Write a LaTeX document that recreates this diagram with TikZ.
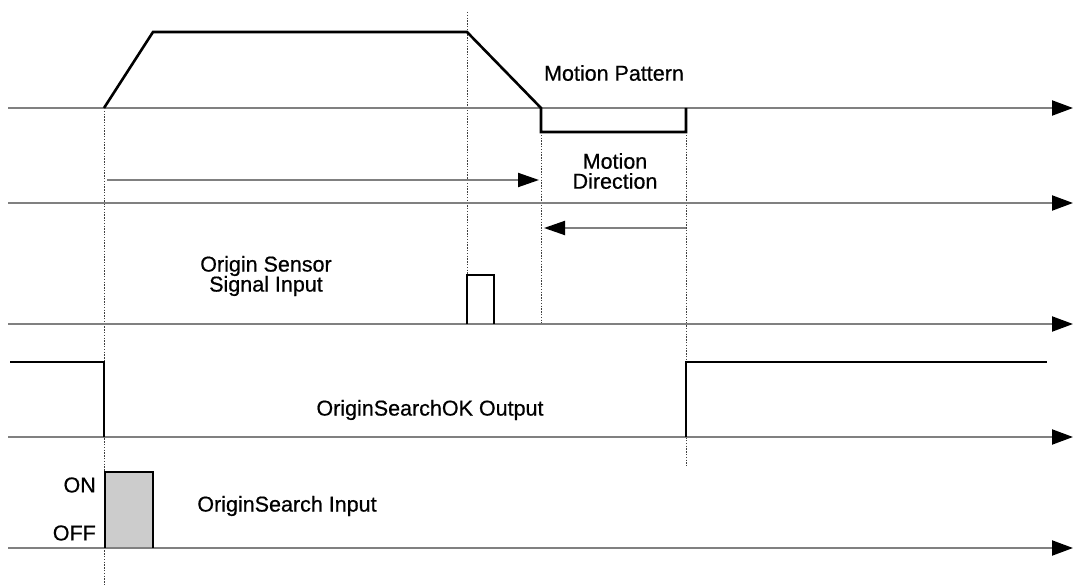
\documentclass[tikz,border=0pt]{standalone}
\usepackage{fontspec}
\setmainfont{Liberation Sans}
\newfontfamily\lblfont{Liberation Sans}[FakeBold=0.6]
\usetikzlibrary{arrows.meta}
\begin{document}
\begin{tikzpicture}[x=1pt,y=-1pt,
  axisline/.style={draw=black!50,line width=2pt,-{Triangle[length=21pt,width=15pt,color=black,fill=black]}},
  sigline/.style={draw=black,line width=2.6pt,line join=miter},
  guide/.style={draw=black!75,line width=1pt,dash pattern=on 1.4pt off 1.4pt},
  dirarrow/.style={draw=black!50,line width=2pt,-{Triangle[length=21pt,width=14pt,color=black,fill=black]}},
  lbl/.style={font=\lblfont\fontsize{21.5}{24}\selectfont,align=center,inner sep=0pt}]
\useasboundingbox (0,0) rectangle (1073,585);
% axis coordinates
\foreach \n/\y in {a/108,b/203,c/324,d/437,e/548}{
  \coordinate (\n s) at (8,\y);
  \coordinate (\n e) at (1073,\y);
}
% guides
\coordinate (g1t) at (104,108); \coordinate (g1b) at (104,585);
\coordinate (g2t) at (467,12);  \coordinate (g2b) at (467,275);
\coordinate (g3t) at (541,132); \coordinate (g3b) at (541,324);
\coordinate (g4t) at (686,132); \coordinate (g4b) at (686,466);
\draw[guide] (g1t) -- (g1b);
\draw[guide] (g2t) -- (g2b);
\draw[guide] (g3t) -- (g3b);
\draw[guide] (g4t) -- (g4b);
% gray input pulse
\coordinate (p1) at (104,548); \coordinate (p2) at (153,472);
\fill[black!20] (p1) rectangle (p2);
% axes
\draw[axisline] (as) -- (ae);
\draw[axisline] (bs) -- (be);
\draw[axisline] (cs) -- (ce);
\draw[axisline] (ds) -- (de);
\draw[axisline] (es) -- (ee);
% motion pattern
\coordinate (m0) at (104,108); \coordinate (m1) at (153,32);
\coordinate (m2) at (467,32);  \coordinate (m3) at (541,108);
\coordinate (m4) at (541,132); \coordinate (m5) at (686,132);
\coordinate (m6) at (686,108);
\draw[sigline] (m0) -- (m1) -- (m2) -- (m3) -- (m4) -- (m5) -- (m6);
% direction arrows
\coordinate (f0) at (107,180); \coordinate (f1) at (539,180);
\coordinate (r0) at (686,228); \coordinate (r1) at (544,228);
\draw[dirarrow] (f0) -- (f1);
\draw[dirarrow] (r0) -- (r1);
% sensor pulse
\coordinate (s0) at (467,324); \coordinate (s1) at (467,275);
\coordinate (s2) at (494,275); \coordinate (s3) at (494,324);
\draw[sigline] (s0) -- (s1) -- (s2) -- (s3);
% OriginSearchOK output
\coordinate (o0) at (10,362); \coordinate (o1) at (104,362);
\coordinate (o2) at (104,437); \coordinate (o3) at (686,437);
\coordinate (o4) at (686,362); \coordinate (o5) at (1047,362);
\draw[sigline] (o0) -- (o1) -- (o2);
\draw[sigline] (o3) -- (o4) -- (o5);
% OriginSearch input
\coordinate (i0) at (105,548); \coordinate (i1) at (105,472);
\coordinate (i2) at (153,472); \coordinate (i3) at (153,548);
\draw[sigline] (i0) -- (i1) -- (i2) -- (i3);
% labels
\node[lbl] (lmp) at (614,73) {Motion Pattern};
\node[lbl] (lmd) at (615,171) {Motion\\[-4pt]Direction};
\node[lbl] (los) at (266,276) {Origin Sensor\\[-4pt]Signal Input};
\node[lbl] (lok) at (430,410) {OriginSearchOK Output};
\node[lbl] (lin) at (287,506) {OriginSearch Input};
\node[lbl,anchor=east] (lon) at (96,485) {ON};
\node[lbl,anchor=east] (loff) at (96,533) {OFF};
\end{tikzpicture}
\end{document}
